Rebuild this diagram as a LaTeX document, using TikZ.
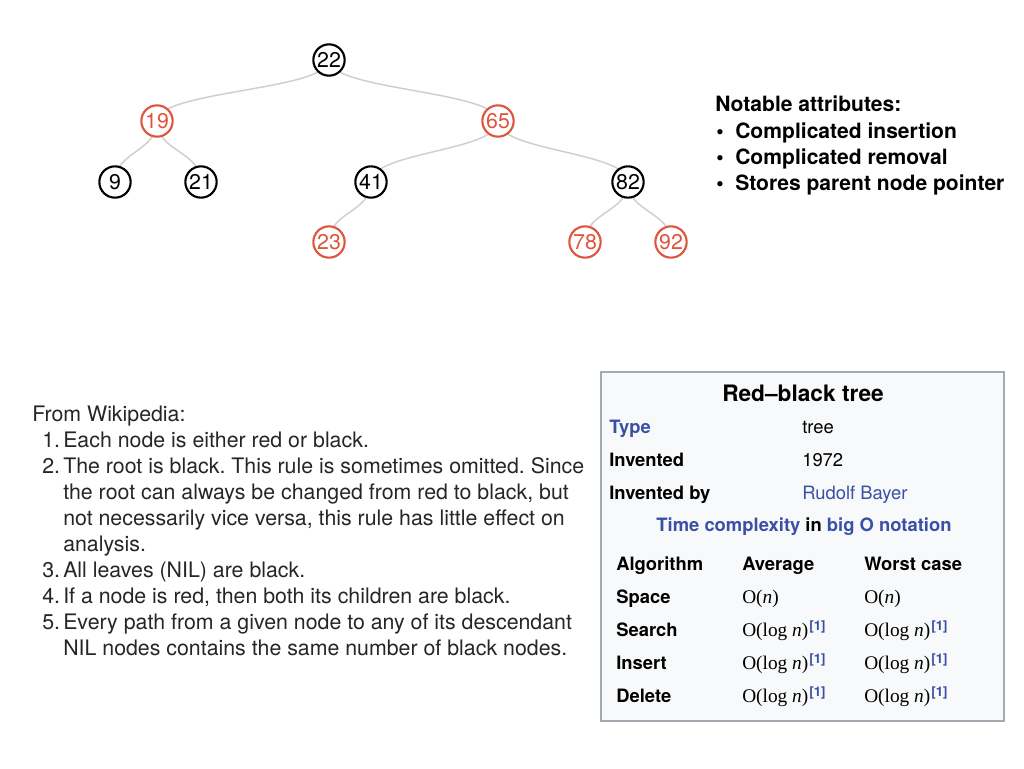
\documentclass[tikz,border=0pt]{standalone}
\usepackage{fontspec}
\setmainfont{TeX Gyre Heros}
\newfontfamily\serifO{Liberation Serif}
\usetikzlibrary{backgrounds,calc}
\definecolor{rbred}{HTML}{E0533C}
\definecolor{edgegray}{HTML}{CFCFCF}
\definecolor{linkblue}{HTML}{3A4FA6}
\definecolor{boxfill}{HTML}{F8F9FA}
\definecolor{boxborder}{HTML}{A2A9B1}
\definecolor{txt}{HTML}{262626}
\frenchspacing
\tikzset{
  tn/.style={circle, line width=1.6pt, fill=white, minimum size=23.5pt, inner sep=0pt, font=\fontsize{16}{18}\selectfont},
  bn/.style={tn, draw=black, text=black},
  rn/.style={tn, draw=rbred, text=rbred},
  edge/.style={draw=edgegray, line width=1.1pt},
  para/.style={anchor=base west, inner sep=0pt, text=txt, font=\fontsize{16}{19}\selectfont},
  attr/.style={anchor=base west, inner sep=0pt, text=black, font=\fontsize{15.8}{19}\selectfont\bfseries},
  ibold/.style={anchor=base west, inner sep=0pt, text=black, font=\fontsize{13.8}{16}\selectfont\bfseries},
  ireg/.style={anchor=base west, inner sep=0pt, text=black, font=\fontsize{13.8}{16}\selectfont},
  iser/.style={anchor=base west, inner sep=0pt, text=black, font=\fontsize{14.5}{16}\selectfont\serifO},
}
\newcommand\treelink[2]{\draw[edge] (#1.center) .. controls ($(#1.center)+(0,30.5)$) and ($(#2.center)+(0,-30.5)$) .. (#2.center);}
\newcommand\refone{\kern0.8pt\raisebox{4pt}{\fontspec{TeX Gyre Heros}\fontsize{10}{12}\selectfont\bfseries\color{linkblue}[1]}}
\begin{document}
\begin{tikzpicture}[x=0.75pt,y=-0.75pt]
\begin{scope}[on background layer]
  \fill[white] (0,0) rectangle (1024,768);
\end{scope}
\useasboundingbox (0,0) rectangle (1024,768);

% tree
\node[bn] (n22) at (329,60) {22};
\node[rn] (n19) at (157,121) {19};
\node[rn] (n65) at (498,121) {65};
\node[bn] (n9)  at (115,182) {9};
\node[bn] (n21) at (201,182) {21};
\node[bn] (n41) at (371,182) {41};
\node[bn] (n82) at (628,182) {82};
\node[rn] (n23) at (329,242) {23};
\node[rn] (n78) at (585,242) {78};
\node[rn] (n92) at (671,242) {92};
\begin{scope}[on background layer]
  \treelink{n22}{n19}
  \treelink{n22}{n65}
  \treelink{n19}{n9}
  \treelink{n19}{n21}
  \treelink{n65}{n41}
  \treelink{n65}{n82}
  \treelink{n41}{n23}
  \treelink{n82}{n78}
  \treelink{n82}{n92}
\end{scope}

% notable attributes
\node[attr] (a0) at (715,111) {Notable attributes:};
\node[attr] (b1) at (716,138) {\textbullet};
\node[attr] (a1) at (735,138) {Complicated insertion};
\node[attr] (b2) at (716,164) {\textbullet};
\node[attr] (a2) at (735,164) {Complicated removal};
\node[attr] (b3) at (716,190) {\textbullet};
\node[attr] (a3) at (735,190) {Stores parent node pointer};

% rules from Wikipedia
\node[para] (p0) at (32,421) {From Wikipedia:};
\node[para] (k1) at (42,447) {1.};
\node[para] (p1) at (63,447) {Each node is either red or black.};
\node[para] (k2) at (42,473) {2.};
\node[para] (p2a) at (63,473) {The root is black. This rule is sometimes omitted. Since};
\node[para] (p2b) at (63,499) {the root can always be changed from red to black, but};
\node[para] (p2c) at (63,525) {not necessarily vice versa, this rule has little effect on};
\node[para] (p2d) at (63,551) {analysis.};
\node[para] (k3) at (42,577) {3.};
\node[para] (p3) at (63,577) {All leaves (NIL) are black.};
\node[para] (k4) at (42,603) {4.};
\node[para] (p4) at (63,603) {If a node is red, then both its children are black.};
\node[para] (k5) at (42,629) {5.};
\node[para] (p5a) at (63,629) {Every path from a given node to any of its descendant};
\node[para] (p5b) at (63,655) {NIL nodes contains the same number of black nodes.};

% infobox
\draw[fill=boxfill, draw=boxborder, line width=1.5pt] (601,372) rectangle (1004,721);
\node[anchor=base, inner sep=0pt, font=\fontsize{17}{20}\selectfont\bfseries] (title) at (803,401) {Red–black tree};
\node[ibold, text=linkblue] (r1) at (609,433) {Type};
\node[ireg] (v1) at (802,433) {tree};
\node[ibold] (r2) at (609,466) {Invented};
\node[ireg] (v2) at (802,466) {1972};
\node[ibold] (r3) at (609,499) {Invented by};
\node[ireg, text=linkblue] (v3) at (802,499) {Rudolf Bayer};
\node[ibold, anchor=base] (tc) at (804,531) {\textcolor{linkblue}{Time complexity} in \textcolor{linkblue}{big O notation}};

\node[ibold] (h1) at (616,570) {Algorithm};
\node[ibold] (h2) at (742,570) {Average};
\node[ibold] (h3) at (864,570) {Worst case};

\node[ibold] (s0) at (616,603) {Space};
\node[iser] (s1) at (742,603) {O(\textit{n})};
\node[iser] (s2) at (864,603) {O(\textit{n})};

\node[ibold] (e0) at (616,636) {Search};
\node[iser] (e1) at (742,636) {O(log \textit{n})\refone};
\node[iser] (e2) at (864,636) {O(log \textit{n})\refone};

\node[ibold] (i0) at (616,669) {Insert};
\node[iser] (i1) at (742,669) {O(log \textit{n})\refone};
\node[iser] (i2) at (864,669) {O(log \textit{n})\refone};

\node[ibold] (d0) at (616,702) {Delete};
\node[iser] (d1) at (742,702) {O(log \textit{n})\refone};
\node[iser] (d2) at (864,702) {O(log \textit{n})\refone};
\end{tikzpicture}
\end{document}
